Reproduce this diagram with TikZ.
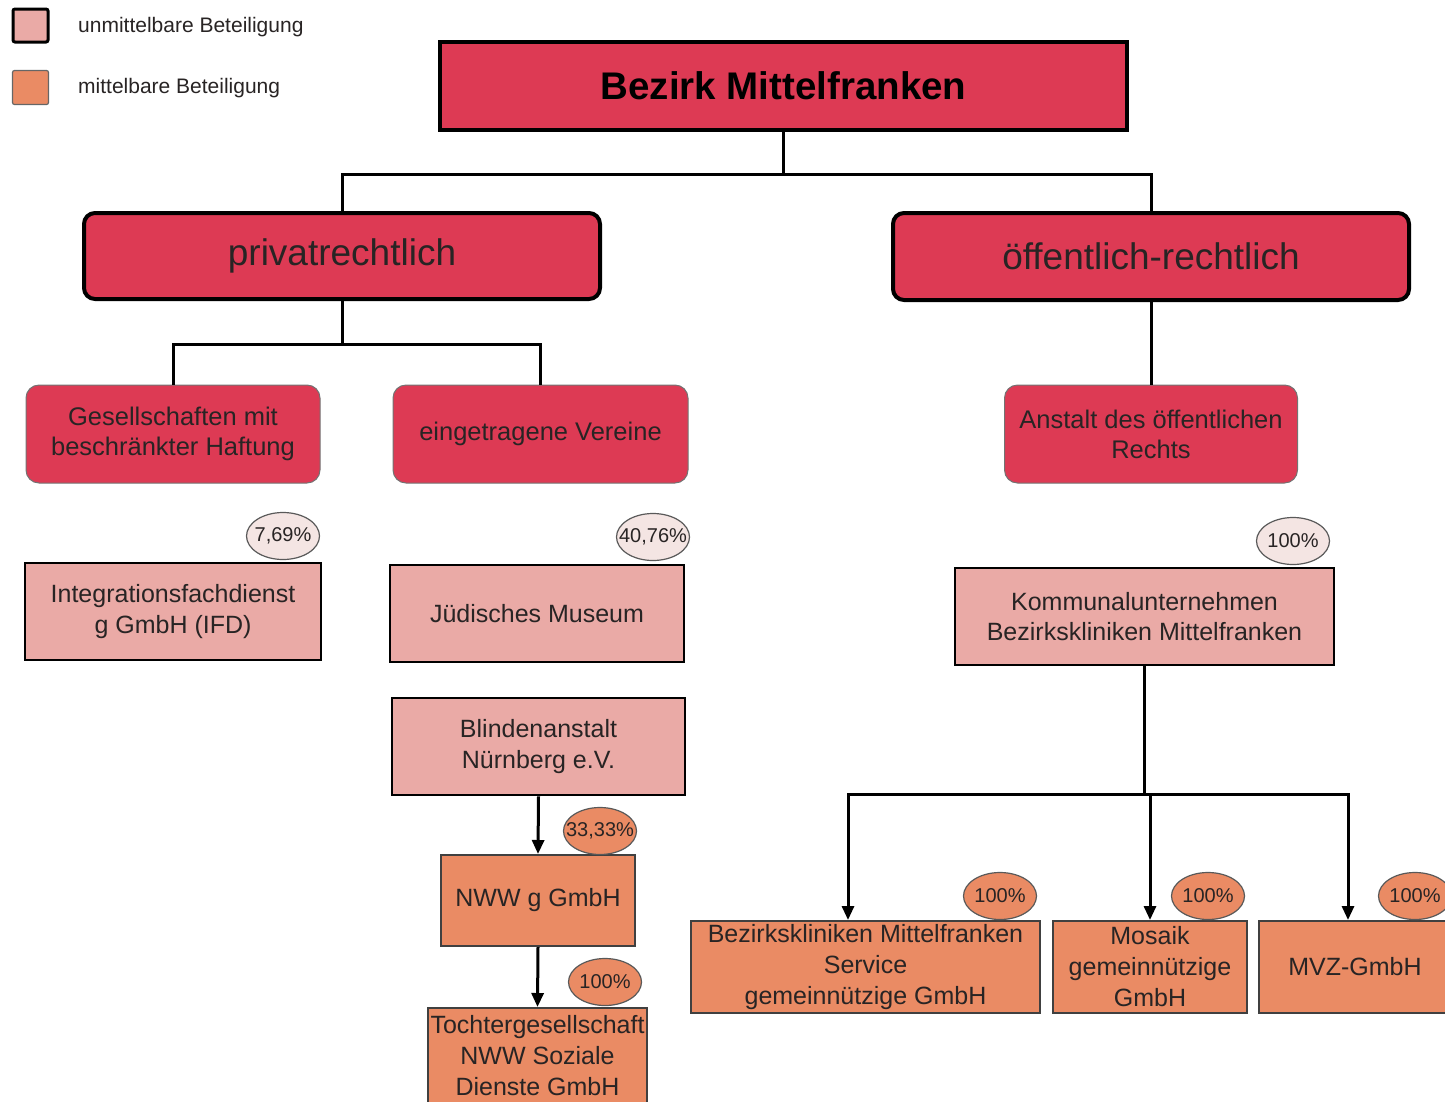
\documentclass[tikz,border=0pt]{standalone}
\usepackage{fontspec}
\setmainfont{Liberation Sans}
\usetikzlibrary{arrows.meta,shapes.geometric}

\definecolor{bzred}{RGB}{221,58,84}
\definecolor{bzpink}{RGB}{234,170,166}
\definecolor{bzorange}{RGB}{234,139,100}
\definecolor{bzpale}{RGB}{244,229,227}
\definecolor{bztext}{RGB}{40,36,36}

% percentage text may stick out of its ellipse, as in the scan
\newcommand{\sharetext}[1]{\makebox[0pt]{#1}}

\tikzset{
  mainbox/.style={draw=black, line width=4pt, fill=bzred, inner sep=0pt,
    font=\fontsize{38.5}{44}\selectfont\bfseries, text=black},
  legalbox/.style={draw=black, line width=4pt, fill=bzred, rounded corners=11pt,
    inner sep=0pt, font=\fontsize{37}{42}\selectfont, text=bztext},
  kindbox/.style={draw=black!55, line width=1pt, fill=bzred, rounded corners=13pt,
    inner sep=0pt, align=center, font=\fontsize{25.5}{30}\selectfont, text=bztext},
  directbox/.style={draw=black, line width=2.5pt, fill=bzpink, inner sep=0pt,
    align=center, font=\fontsize{25}{30.5}\selectfont, text=bztext},
  indirectbox/.style={draw=black!75, line width=2pt, fill=bzorange, inner sep=0pt,
    align=center, font=\fontsize{25}{31}\selectfont, text=bztext},
  sharepale/.style={ellipse, draw=black!65, line width=1.2pt, fill=bzpale,
    minimum width=73pt, minimum height=47pt, inner sep=0pt,
    font=\fontsize{20}{24}\selectfont, text=bztext},
  shareorange/.style={sharepale, fill=bzorange},
  legendtext/.style={anchor=west, inner sep=0pt, font=\fontsize{21}{25}\selectfont, text=bztext},
  link/.style={line width=3pt},
  arrowlink/.style={line width=3pt, -{Triangle[length=14pt,width=12pt]}},
}

\begin{document}
\begin{tikzpicture}[x=1pt,y=1pt,yscale=-1]
\useasboundingbox (0,0) rectangle (1445,1101);

% Legend
\node[draw=black, line width=3pt, fill=bzpink, rounded corners=2pt, minimum width=35pt, minimum height=33pt, inner sep=0pt] (legdirect) at (30.5,25.5) {};
\node[legendtext] (legdirecttext) at (78,27) {unmittelbare Beteiligung};
\node[draw=black!60, line width=1.2pt, fill=bzorange, rounded corners=2pt, minimum width=36pt, minimum height=34pt, inner sep=0pt] (legindirect) at (30.5,87.5) {};
\node[legendtext] (legindirecttext) at (78,88) {mittelbare Beteiligung};

% Main boxes
\node[mainbox, minimum width=687pt, minimum height=88pt] (bez) at (783.5,86) {Bezirk Mittelfranken};
\node[legalbox, minimum width=516pt, minimum height=86pt] (priv) at (342,256) {privatrechtlich};
\node[legalbox, minimum width=516pt, minimum height=87pt] (oeff) at (1151,256.5) {öffentlich-rechtlich};

% Kinds
\node[kindbox, minimum width=294pt, minimum height=98pt] (gmbh) at (173,434) {Gesellschaften mit\\beschränkter Haftung};
\node[kindbox, minimum width=295pt, minimum height=98pt] (ev) at (540.5,434) {eingetragene Vereine};
\node[kindbox, minimum width=293pt, minimum height=98pt] (aoer) at (1151,434) {Anstalt des öffentlichen\\Rechts};

% Direct holdings
\node[directbox, minimum width=296pt, minimum height=97pt] (ifd) at (173,611.5) {Integrationsfachdienst\\g GmbH (IFD)};
\node[directbox, minimum width=294pt, minimum height=97pt] (jm) at (537,613.5) {Jüdisches Museum};
\node[directbox, minimum width=379pt, minimum height=97pt] (kub) at (1144.5,616.5) {Kommunalunternehmen\\Bezirkskliniken Mittelfranken};
\node[directbox, minimum width=293pt, minimum height=97pt] (blind) at (538.5,746.5) {Blindenanstalt\\Nürnberg e.V.};

% Indirect holdings
\node[indirectbox, minimum width=194pt, minimum height=91pt] (nww) at (538,900.5) {NWW g GmbH};
\node[indirectbox, minimum width=219pt, minimum height=96pt] (tochter) at (537.5,1056) {Tochtergesellschaft\\NWW Soziale\\Dienste GmbH};
\node[indirectbox, minimum width=349pt, minimum height=92pt] (bks) at (865.5,967) {Bezirkskliniken Mittelfranken\\Service\\gemeinnützige GmbH};
\node[indirectbox, minimum width=194pt, minimum height=92pt] (mosaik) at (1150,967) {Mosaik\\gemeinnützige\\GmbH};
\node[indirectbox, minimum width=192pt, minimum height=92pt] (mvz) at (1355,967) {MVZ-GmbH};

% Connections
\draw[link] (bez.south) -- ++(0,42) -| (priv.north);
\draw[link] (bez.south) -- ++(0,42) -| (oeff.north);
\draw[link] (priv.south) -- ++(0,43) -| (gmbh.north);
\draw[link] (priv.south) -- ++(0,43) -| (ev.north);
\draw[link] (oeff.south) -- (aoer.north);
\draw[arrowlink] (blind.south) -- (nww.north);
\draw[arrowlink] (nww.south) -- (tochter.north);
\draw[link] (kub.south) -- ++(0,128) coordinate (split);
\draw[arrowlink] (split) -| ([xshift=-17.5pt]bks.north);
\draw[arrowlink] (split) -| (mosaik.north);
\draw[arrowlink] (split) -| ([xshift=-7pt]mvz.north);

% Shares
\node[sharepale] (pifd) at (283,536) {\sharetext{7,69\%}};
\node[sharepale] (pjm) at (653,537) {\sharetext{40,76\%}};
\node[sharepale] (pkub) at (1293,541) {\sharetext{100\%}};
\node[shareorange] (pnww) at (600,831) {\sharetext{33,33\%}};
\node[shareorange] (ptochter) at (605,982) {\sharetext{100\%}};
\node[shareorange] (pbks) at (1000,896) {\sharetext{100\%}};
\node[shareorange] (pmosaik) at (1208,896) {\sharetext{100\%}};
\node[shareorange] (pmvz) at (1415,896) {\sharetext{100\%}};

\end{tikzpicture}
\end{document}
